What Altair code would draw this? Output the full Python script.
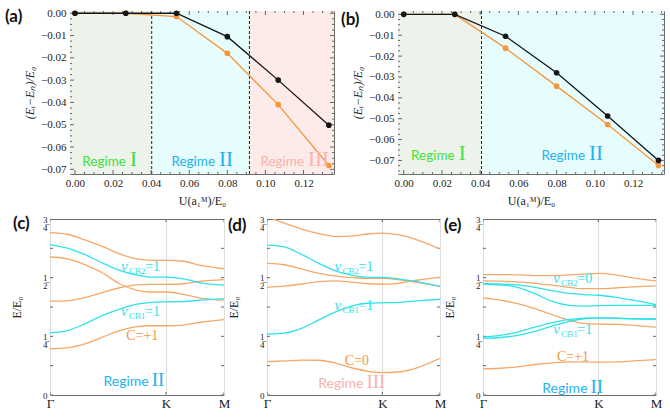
import altair as alt
import pandas as pd

# ---------------- colours / fonts ----------------
ORANGE = "#f5963c"
BLACK = "#151515"
CYAN = "#2fe2ea"
BAND_ORANGE = "#f7a868"
SERIF = "Liberation Serif"
SANS = "Lato"
GREEN_T = "#3de23d"
BLUE_T = "#22b2ee"
PINK_T = "#f8b3ad"
TICK = "#666666"

# ---------------- panel (a) / (b) data ----------------
U_POINTS = [0.0, 0.0267, 0.0533, 0.0800, 0.1067, 0.1333]
A_BLACK = [0.0, 0.0, 0.0, -0.0105, -0.0300, -0.0502]
A_ORANGE = [0.0, 0.0, -0.0015, -0.0180, -0.0410, -0.0683]
B_BLACK = [0.0, 0.0, -0.0105, -0.0280, -0.0487, -0.0700]
B_ORANGE = [0.0, 0.0, -0.0162, -0.0344, -0.0528, -0.0724]

U_TICKS = [0.0, 0.02, 0.04, 0.06, 0.08, 0.10, 0.12]
U_MINOR = [0.005, 0.01, 0.015, 0.025, 0.03, 0.035, 0.045, 0.05, 0.055, 0.065, 0.07, 0.075,
           0.085, 0.09, 0.095, 0.105, 0.11, 0.115, 0.125, 0.13, 0.135]
DE_TICKS = [0.0, -0.01, -0.02, -0.03, -0.04, -0.05, -0.06, -0.07]
DE_MINOR = [-0.0025, -0.005, -0.0075, -0.0125, -0.015, -0.0175, -0.0225, -0.025, -0.0275,
            -0.0325, -0.035, -0.0375, -0.0425, -0.045, -0.0475, -0.0525, -0.055, -0.0575,
            -0.0625, -0.065, -0.0675, -0.0725, -0.075]
A_X_DOMAIN = [-0.0026, 0.1360]
A_Y_DOMAIN = [-0.0721, 0.0010]
B_X_DOMAIN = [-0.0030, 0.1362]
B_Y_DOMAIN = [-0.0765, 0.0016]

A_REGIME_FROM = [-0.0026, 0.0403, 0.0916]
A_REGIME_TO = [0.0403, 0.0916, 0.1360]
A_REGIME_FILL = ["#edf3ea", "#e7fcfc", "#fdebe9"]
A_REGIME_NAME = ["I", "II", "III"]
A_REGIME_X = [0.0273, 0.0741, 0.1208]
A_REGIME_Y = [-0.0683, -0.0683, -0.0683]
A_REGIME_COLOR = [GREEN_T, BLUE_T, PINK_T]
A_DASHES = [0.0403, 0.0916]

B_REGIME_FROM = [-0.0030, 0.0407]
B_REGIME_TO = [0.0407, 0.1362]
B_REGIME_FILL = ["#edf3ea", "#e7fcfc"]
B_REGIME_NAME = ["I", "II"]
B_REGIME_X = [0.0272, 0.0954]
B_REGIME_Y = [-0.0697, -0.0697]
B_REGIME_COLOR = [GREEN_T, BLUE_T]
B_DASHES = [0.0407]

# ---------------- band structure data ----------------
K_PATH = [0.0, 0.3, 0.6, 0.9, 1.2, 1.5, 1.75, 2.0, 2.3, 2.6, 3.0]
K_TICKS = [0, 2, 3]
K_NAMES = ["Γ", "K", "M"]
E_TICKS = [0, 0.125, 0.25, 0.375, 0.5, 0.625, 0.75]

C_ORANGE = [
    [0.692, 0.685, 0.661, 0.633, 0.601, 0.580, 0.574, 0.574, 0.570, 0.552, 0.538],
    [0.588, 0.580, 0.556, 0.521, 0.474, 0.446, 0.439, 0.439, 0.429, 0.412, 0.404],
    [0.400, 0.401, 0.415, 0.436, 0.457, 0.469, 0.471, 0.471, 0.474, 0.485, 0.492],
    [0.197, 0.201, 0.218, 0.246, 0.274, 0.291, 0.295, 0.295, 0.298, 0.310, 0.321],
]
C_CYAN = [
    [0.640, 0.626, 0.598, 0.563, 0.531, 0.511, 0.502, 0.502, 0.495, 0.478, 0.468],
    [0.265, 0.274, 0.303, 0.338, 0.366, 0.387, 0.395, 0.397, 0.398, 0.404, 0.411],
]
D_ORANGE = [
    [0.760, 0.732, 0.707, 0.688, 0.675, 0.678, 0.686, 0.690, 0.682, 0.661, 0.622],
    [0.561, 0.555, 0.537, 0.518, 0.507, 0.500, 0.497, 0.497, 0.491, 0.480, 0.464],
    [0.459, 0.464, 0.473, 0.483, 0.486, 0.480, 0.474, 0.472, 0.477, 0.489, 0.501],
    [0.142, 0.145, 0.149, 0.148, 0.135, 0.114, 0.101, 0.095, 0.099, 0.116, 0.156],
]
D_CYAN = [
    [0.639, 0.631, 0.599, 0.561, 0.528, 0.509, 0.501, 0.501, 0.494, 0.483, 0.462],
    [0.260, 0.264, 0.284, 0.320, 0.355, 0.381, 0.391, 0.393, 0.395, 0.401, 0.408],
]
E_ORANGE = [
    [0.513, 0.513, 0.512, 0.509, 0.509, 0.512, 0.515, 0.518, 0.512, 0.499, 0.486],
    [0.486, 0.485, 0.482, 0.476, 0.468, 0.459, 0.453, 0.453, 0.456, 0.461, 0.465],
    [0.414, 0.404, 0.389, 0.368, 0.342, 0.318, 0.305, 0.302, 0.301, 0.297, 0.289],
    [0.111, 0.114, 0.120, 0.130, 0.137, 0.141, 0.141, 0.140, 0.141, 0.145, 0.151],
]
E_CYAN = [
    [0.475, 0.473, 0.469, 0.459, 0.445, 0.433, 0.428, 0.425, 0.416, 0.404, 0.385],
    [0.473, 0.469, 0.459, 0.432, 0.399, 0.382, 0.379, 0.381, 0.382, 0.382, 0.382],
    [0.247, 0.254, 0.268, 0.289, 0.308, 0.322, 0.328, 0.329, 0.328, 0.325, 0.322],
    [0.242, 0.245, 0.254, 0.271, 0.294, 0.314, 0.325, 0.329, 0.327, 0.324, 0.325],
]

# annotations (k, E positions)
C_NU = {"k": [1.225, 1.225], "e": [0.530, 0.335], "sub": ["CB2", "CB1"], "val": ["=1", "=1"]}
D_NU = {"k": [1.17, 1.17], "e": [0.528, 0.362], "sub": ["CB2", "CB1"], "val": ["=1", "=1"]}
E_NU = {"k": [1.22, 1.22], "e": [0.479, 0.261], "sub": ["CB2", "CB1"], "val": ["=0", "=1"]}
C_CHERN = {"k": [1.59], "e": [0.235], "t": ["C=+1"]}
D_CHERN = {"k": [1.56], "e": [0.128], "t": ["C=0"]}
E_CHERN = {"k": [1.56], "e": [0.147], "t": ["C=+1"]}
C_REGIME = {"k": [1.72], "e": [0.038], "n": ["II"], "c": [BLUE_T]}
D_REGIME = {"k": [1.69], "e": [0.031], "n": ["III"], "c": [PINK_T]}
E_REGIME = {"k": [1.83], "e": [0.007], "n": ["II"], "c": [BLUE_T]}


def tag_layer(tag, dx, dy):
    return alt.Chart(pd.DataFrame({"t": [tag]})).mark_text(
        align="left", baseline="top", font=SANS, fontSize=17, fontWeight="bold", color="#111"
    ).encode(x=alt.value(dx), y=alt.value(dy), text="t:N")


def frame_ticks(X, Y, width, height, xvals, yvals, length):
    """Inward frame ticks on all four sides (Mathematica style)."""
    out = []
    xdf = pd.DataFrame({"v": xvals})
    ydf = pd.DataFrame({"v": yvals})
    out.append(alt.Chart(xdf).mark_rule(color=TICK, strokeWidth=1, clip=True).encode(
        x=X("v"), y=alt.value(height), y2=alt.value(height - length)))
    out.append(alt.Chart(xdf).mark_rule(color=TICK, strokeWidth=1, clip=True).encode(
        x=X("v"), y=alt.value(0), y2=alt.value(length)))
    out.append(alt.Chart(ydf).mark_rule(color=TICK, strokeWidth=1, clip=True).encode(
        y=Y("v"), x=alt.value(0), x2=alt.value(length)))
    out.append(alt.Chart(ydf).mark_rule(color=TICK, strokeWidth=1, clip=True).encode(
        y=Y("v"), x=alt.value(width - length), x2=alt.value(width)))
    return out


def energy_panel(tag, tag_dx, tag_dy, width, height, x_dom, y_dom, black, orange,
                 reg_from, reg_to, reg_fill, reg_name, reg_x, reg_y, reg_color, dashes):
    xs = alt.Scale(domain=x_dom, nice=False, zero=False)
    ys = alt.Scale(domain=y_dom, nice=False, zero=False)
    xax = alt.Axis(values=U_TICKS, format=".2f", title="U(a₁ᴹ)/E₀", grid=False, domain=False,
                   ticks=False, labelFont=SERIF, labelFontSize=11,
                   labelColor="#222", labelPadding=3, labelFlush=False, labelOverlap=False,
                   titleFont=SERIF, titleFontSize=12, titleFontWeight="normal",
                   titleColor="#222", titlePadding=7)
    yax = alt.Axis(values=DE_TICKS, format=".2f", title="(Eᵢ−Eₙ)/E₀", grid=False, domain=False,
                   ticks=False, labelFont=SERIF, labelFontSize=11,
                   labelColor="#222", labelPadding=4, labelFlush=False, labelOverlap=False,
                   titleFont=SERIF, titleFontSize=12, titleFontWeight="normal",
                   titleFontStyle="italic", titleColor="#222", titlePadding=4)

    def X(f):
        return alt.X(f"{f}:Q", scale=xs, axis=xax)

    def Y(f):
        return alt.Y(f"{f}:Q", scale=ys, axis=yax)

    bg = alt.Chart(pd.DataFrame({"x": reg_from, "x2": reg_to, "f": reg_fill})).mark_rect().encode(
        x=X("x"), x2="x2:Q", y=alt.value(0), y2=alt.value(height), fill=alt.Fill("f:N", scale=None)
    )
    dash = alt.Chart(pd.DataFrame({"x": dashes})).mark_rule(
        color="#222", strokeDash=[3, 2], strokeWidth=1
    ).encode(x=X("x"), y=alt.value(0), y2=alt.value(height))

    rows = []
    for u, b, o in zip(U_POINTS, black, orange):
        rows.append({"x": u, "y": o, "s": "orange"})
        rows.append({"x": u, "y": b, "s": "black"})
    df = pd.DataFrame(rows)
    layers = [bg, dash]
    layers += frame_ticks(X, Y, width, height, U_TICKS, DE_TICKS, 4)
    layers += frame_ticks(X, Y, width, height, U_MINOR, DE_MINOR, 2)
    for s, col in (("orange", ORANGE), ("black", BLACK)):
        base = alt.Chart(df).transform_filter(alt.datum.s == s)
        layers.append(base.mark_line(color=col, strokeWidth=1.3).encode(x=X("x"), y=Y("y")))
        layers.append(base.mark_circle(color=col, size=32, opacity=1).encode(x=X("x"), y=Y("y")))

    rdf = pd.DataFrame({"x": reg_x, "y": reg_y, "n": reg_name, "c": reg_color})
    layers.append(alt.Chart(rdf).mark_text(align="right", baseline="alphabetic", font=SANS,
                                           fontSize=13.5, dx=-1, text="Regime").encode(
        x=X("x"), y=Y("y"), color=alt.Color("c:N", scale=None)))
    layers.append(alt.Chart(rdf).mark_text(align="left", baseline="alphabetic", font=SERIF,
                                           fontSize=21, dx=3).encode(
        x=X("x"), y=Y("y"), text="n:N", color=alt.Color("c:N", scale=None)))
    layers.append(tag_layer(tag, tag_dx, tag_dy))
    return alt.layer(*layers).properties(width=width, height=height)


FRACTION_EXPR = ("datum.value == 0 ? '0' : datum.value == 0.25 ? ['1', '4\u0305'] : "
                 "datum.value == 0.5 ? ['1', '2\u0305'] : datum.value == 0.75 ? ['3', '4\u0305'] : ''")
K_EXPR = " : ".join(
    [f"datum.value == {k} ? '{n}'" for k, n in zip(K_TICKS[:-1], K_NAMES[:-1])]
) + f" : '{K_NAMES[-1]}'"


def band_panel(tag, tag_dx, tag_dy, width, height, oranges, cyans, nu, chern, regime, extra_left=None):
    xs = alt.Scale(domain=[0, 3], nice=False, zero=False)
    ys = alt.Scale(domain=[0, 0.75], nice=False, zero=False)
    xax = alt.Axis(values=K_TICKS, labelExpr=K_EXPR, title=None, grid=True, gridColor="#dedede",
                   gridWidth=1, domain=False, ticks=False, labelFont=SERIF,
                   labelFontSize=13, labelColor="#222", labelPadding=2, labelFlush=False,
                   labelOverlap=False)
    yax = alt.Axis(values=E_TICKS, labelExpr=FRACTION_EXPR, title="E/E₀", grid=False, domain=False,
                   ticks=False, labelFont=SERIF, labelFontSize=9,
                   labelLineHeight=8, labelColor="#222", labelPadding=3, labelFlush=False,
                   labelOverlap=False, titleFont=SERIF, titleFontSize=12, titleFontWeight="normal",
                   titleColor="#222", titlePadding=19)

    def X(f):
        return alt.X(f"{f}:Q", scale=xs, axis=xax)

    def Y(f):
        return alt.Y(f"{f}:Q", scale=ys, axis=yax)

    rows = []
    for i, band in enumerate(oranges):
        for k, e in zip(K_PATH, band):
            rows.append({"k": k, "e": e, "b": f"o{i}", "kind": "orange"})
    for i, band in enumerate(cyans):
        for k, e in zip(K_PATH, band):
            rows.append({"k": k, "e": e, "b": f"c{i}", "kind": "cyan"})
    df = pd.DataFrame(rows)
    layers = frame_ticks(X, Y, width, height, K_TICKS, E_TICKS, 3)
    for kind, col in (("orange", BAND_ORANGE), ("cyan", CYAN)):
        layers.append(alt.Chart(df).transform_filter(alt.datum.kind == kind).mark_line(
            color=col, strokeWidth=1.3, interpolate="monotone", clip=True
        ).encode(x=X("k"), y=Y("e"), detail="b:N"))

    ndf = pd.DataFrame(nu)
    layers.append(alt.Chart(ndf).mark_text(align="left", baseline="alphabetic", font=SERIF,
                                           fontStyle="italic", fontSize=15, color=CYAN,
                                           text="ν").encode(x=X("k"), y=Y("e")))
    layers.append(alt.Chart(ndf).mark_text(align="left", baseline="alphabetic", font=SERIF,
                                           fontSize=9, dx=8, dy=3, color=CYAN).encode(
        x=X("k"), y=Y("e"), text="sub:N"))
    layers.append(alt.Chart(ndf).mark_text(align="left", baseline="alphabetic", font=SERIF,
                                           fontSize=14, dx=24, color=CYAN).encode(
        x=X("k"), y=Y("e"), text="val:N"))
    layers.append(alt.Chart(pd.DataFrame(chern)).mark_text(
        align="center", baseline="alphabetic", font=SERIF, fontSize=14, color=ORANGE
    ).encode(x=X("k"), y=Y("e"), text="t:N"))
    rdf = pd.DataFrame(regime)
    layers.append(alt.Chart(rdf).mark_text(align="right", baseline="alphabetic", font=SANS,
                                           fontSize=14, dx=-1, text="Regime").encode(
        x=X("k"), y=Y("e"), color=alt.Color("c:N", scale=None)))
    layers.append(alt.Chart(rdf).mark_text(align="left", baseline="alphabetic", font=SERIF,
                                           fontSize=19, dx=2).encode(
        x=X("k"), y=Y("e"), text="n:N", color=alt.Color("c:N", scale=None)))
    layers.append(tag_layer(tag, tag_dx, tag_dy))
    if extra_left is not None:
        layers.append(alt.Chart(pd.DataFrame({"t": [0]})).mark_rule(strokeOpacity=0).encode(
            x=alt.value(extra_left), x2=alt.value(extra_left + 4), y=alt.value(0)))
    return alt.layer(*layers).properties(width=width, height=height)


pa = energy_panel("(a)", -65, -2, 264, 163, A_X_DOMAIN, A_Y_DOMAIN, A_BLACK, A_ORANGE,
                  A_REGIME_FROM, A_REGIME_TO, A_REGIME_FILL, A_REGIME_NAME, A_REGIME_X,
                  A_REGIME_Y, A_REGIME_COLOR, A_DASHES)
pb = energy_panel("(b)", -57, 1, 266, 163, B_X_DOMAIN, B_Y_DOMAIN, B_BLACK, B_ORANGE,
                  B_REGIME_FROM, B_REGIME_TO, B_REGIME_FILL, B_REGIME_NAME, B_REGIME_X,
                  B_REGIME_Y, B_REGIME_COLOR, B_DASHES)
pc = band_panel("(c)", -37, -3, 174, 176, C_ORANGE, C_CYAN, C_NU, C_CHERN, C_REGIME, extra_left=-46)
pd_ = band_panel("(d)", -39, -1, 173, 176, D_ORANGE, D_CYAN, D_NU, D_CHERN, D_REGIME)
pe = band_panel("(e)", -39, -1, 173, 176, E_ORANGE, E_CYAN, E_NU, E_CHERN, E_REGIME)

# an empty 1x1 cell that shifts the top row relative to the bottom row
spacer = alt.Chart(pd.DataFrame({"t": [0]})).mark_point(opacity=0).encode(
    x=alt.value(0), y=alt.value(0)
).properties(width=1, height=1, view=alt.ViewBackground(stroke="transparent"))

row1 = alt.hconcat(spacer, alt.hconcat(pa, pb, spacing=5), spacing=-50)
row2 = alt.hconcat(pc, pd_, pe, spacing=-4)
chart = alt.vconcat(row1, row2, spacing=7).configure_view(
    stroke="#6e6e6e", strokeWidth=1
).properties(padding={"left": 3, "top": 6, "right": 2, "bottom": 0}, background="white")

chart.save("out.html", embed_options={"renderer": "svg", "actions": False})
